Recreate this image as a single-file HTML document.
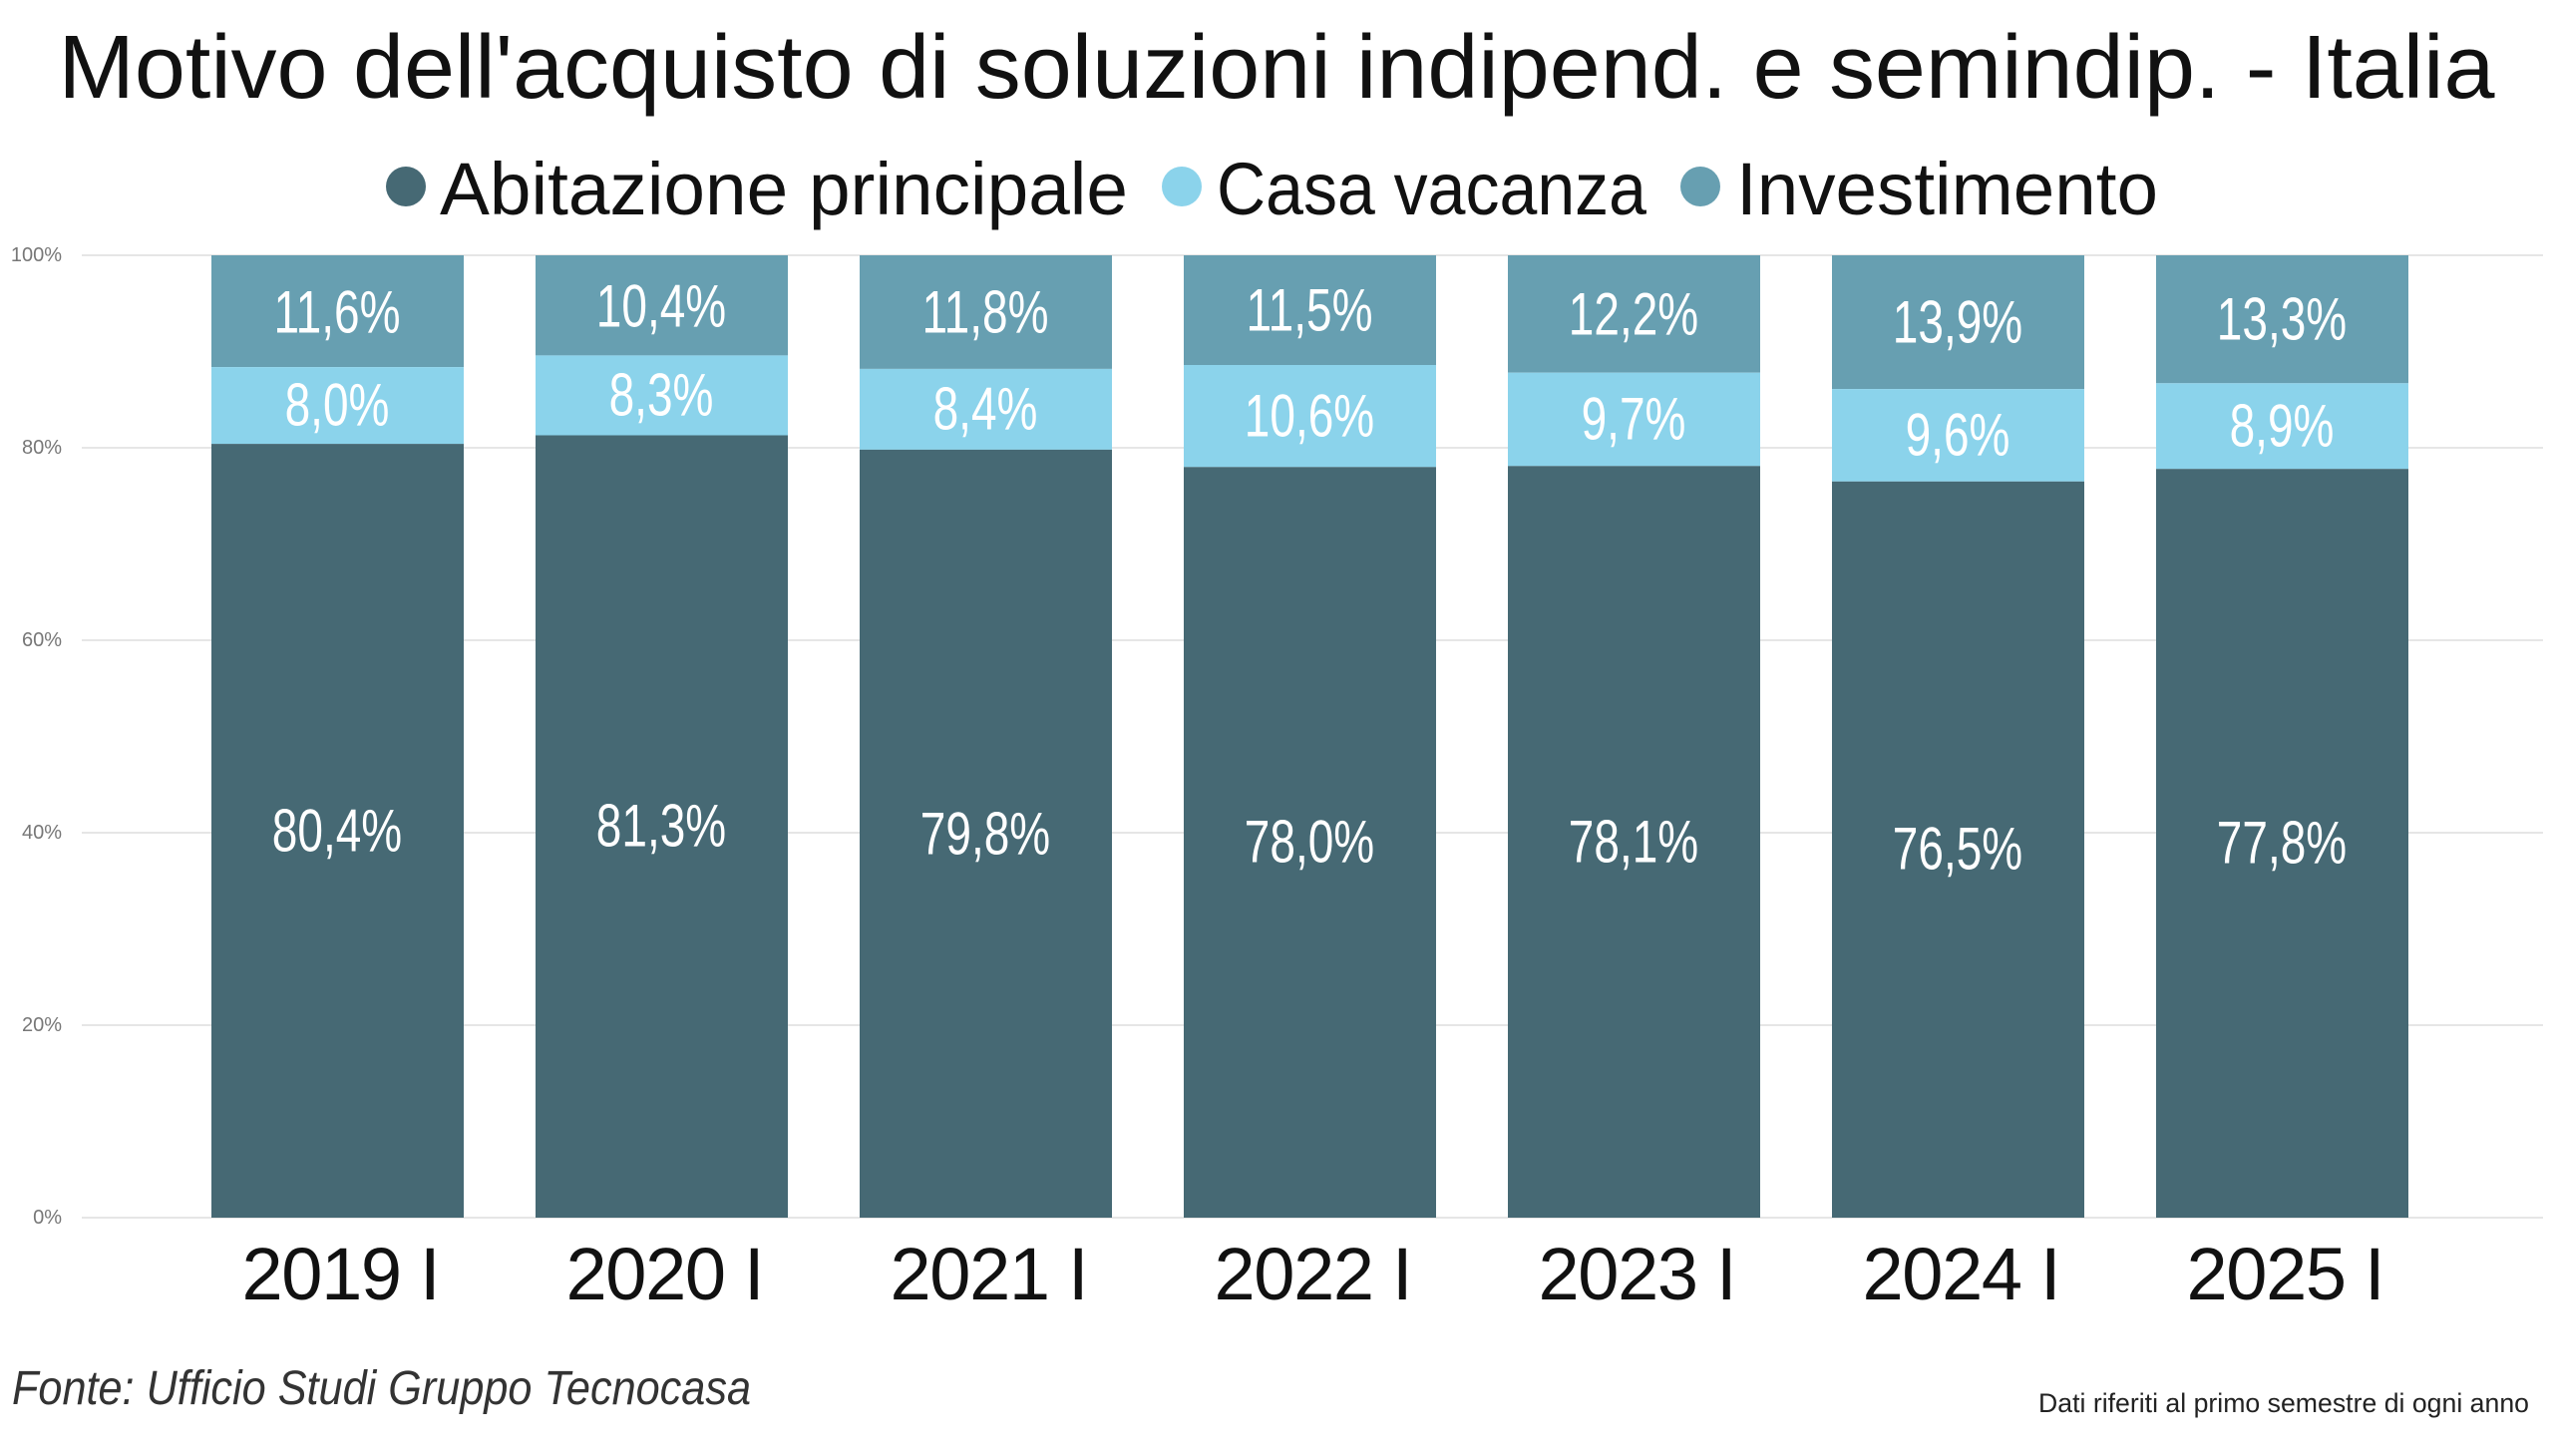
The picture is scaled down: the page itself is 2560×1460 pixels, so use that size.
<!DOCTYPE html>
<html><head><meta charset="utf-8"><style>
html,body{margin:0;padding:0;background:#fff;}
svg{display:block;}
.v text{font-size:50px;fill:#fff;text-anchor:middle;dominant-baseline:central;}
</style></head><body>
<svg width="2560" height="1460" viewBox="0 0 2560 1460" xmlns="http://www.w3.org/2000/svg" font-family="Liberation Sans, sans-serif">
<text x="1280" y="98" font-size="90" text-anchor="middle" fill="#111" textLength="2443" lengthAdjust="spacingAndGlyphs">Motivo dell'acquisto di soluzioni indipend. e semindip. - Italia</text>
<circle cx="407" cy="187" r="20" fill="#466974"/>
<text x="441" y="215" font-size="74" fill="#111" textLength="690" lengthAdjust="spacingAndGlyphs">Abitazione principale</text>
<circle cx="1185" cy="187" r="20" fill="#8BD3EB"/>
<text x="1220" y="215" font-size="74" fill="#111" textLength="431" lengthAdjust="spacingAndGlyphs">Casa vacanza</text>
<circle cx="1705" cy="187" r="20" fill="#679FB1"/>
<text x="1741" y="215" font-size="74" fill="#111" textLength="423" lengthAdjust="spacingAndGlyphs">Investimento</text>
<g stroke="#e6e6e6" stroke-width="2">
<line x1="82" x2="2550" y1="256" y2="256"/><line x1="82" x2="2550" y1="449" y2="449"/><line x1="82" x2="2550" y1="642" y2="642"/><line x1="82" x2="2550" y1="835" y2="835"/><line x1="82" x2="2550" y1="1028" y2="1028"/><line x1="82" x2="2550" y1="1221" y2="1221"/>
</g>
<g font-size="20" fill="#777" text-anchor="end" dominant-baseline="central">
<text x="62" y="256">100%</text><text x="62" y="449">80%</text><text x="62" y="642">60%</text><text x="62" y="835">40%</text><text x="62" y="1028">20%</text><text x="62" y="1221">0%</text>
</g>
<g>
<rect x="212" y="256" width="253" height="112.1" fill="#679FB1"/><rect x="212" y="368.1" width="253" height="77" fill="#8BD3EB"/><rect x="212" y="445.1" width="253" height="775.9" fill="#466974"/>
<rect x="537" y="256" width="253" height="100.4" fill="#679FB1"/><rect x="537" y="356.4" width="253" height="80.1" fill="#8BD3EB"/><rect x="537" y="436.5" width="253" height="784.5" fill="#466974"/>
<rect x="862" y="256" width="253" height="113.9" fill="#679FB1"/><rect x="862" y="369.9" width="253" height="81" fill="#8BD3EB"/><rect x="862" y="450.9" width="253" height="770.1" fill="#466974"/>
<rect x="1187" y="256" width="253" height="110" fill="#679FB1"/><rect x="1187" y="366" width="253" height="102.3" fill="#8BD3EB"/><rect x="1187" y="468.3" width="253" height="752.7" fill="#466974"/>
<rect x="1512" y="256" width="253" height="117.7" fill="#679FB1"/><rect x="1512" y="373.7" width="253" height="93.6" fill="#8BD3EB"/><rect x="1512" y="467.3" width="253" height="753.7" fill="#466974"/>
<rect x="1837" y="256" width="253" height="134.1" fill="#679FB1"/><rect x="1837" y="390.1" width="253" height="92.7" fill="#8BD3EB"/><rect x="1837" y="482.8" width="253" height="738.2" fill="#466974"/>
<rect x="2162" y="256" width="253" height="128.3" fill="#679FB1"/><rect x="2162" y="384.3" width="253" height="85.9" fill="#8BD3EB"/><rect x="2162" y="470.2" width="253" height="750.8" fill="#466974"/>
</g>
<g class="v">
<text transform="translate(338,314) scale(0.92,1.2)">11,6%</text><text transform="translate(338,407) scale(0.92,1.2)">8,0%</text><text transform="translate(338,834) scale(0.92,1.2)">80,4%</text>
<text transform="translate(663,308) scale(0.92,1.2)">10,4%</text><text transform="translate(663,397) scale(0.92,1.2)">8,3%</text><text transform="translate(663,829) scale(0.92,1.2)">81,3%</text>
<text transform="translate(988,314) scale(0.92,1.2)">11,8%</text><text transform="translate(988,411) scale(0.92,1.2)">8,4%</text><text transform="translate(988,837) scale(0.92,1.2)">79,8%</text>
<text transform="translate(1313,312) scale(0.92,1.2)">11,5%</text><text transform="translate(1313,418) scale(0.92,1.2)">10,6%</text><text transform="translate(1313,845) scale(0.92,1.2)">78,0%</text>
<text transform="translate(1638,316) scale(0.92,1.2)">12,2%</text><text transform="translate(1638,421) scale(0.92,1.2)">9,7%</text><text transform="translate(1638,845) scale(0.92,1.2)">78,1%</text>
<text transform="translate(1963,324) scale(0.92,1.2)">13,9%</text><text transform="translate(1963,437) scale(0.92,1.2)">9,6%</text><text transform="translate(1963,852) scale(0.92,1.2)">76,5%</text>
<text transform="translate(2288,321) scale(0.92,1.2)">13,3%</text><text transform="translate(2288,428) scale(0.92,1.2)">8,9%</text><text transform="translate(2288,846) scale(0.92,1.2)">77,8%</text>
</g>
<g font-size="74" fill="#111" text-anchor="middle" lengthAdjust="spacingAndGlyphs">
<text x="342" y="1303" textLength="199">2019 I</text><text x="667" y="1303" textLength="199">2020 I</text><text x="992" y="1303" textLength="199">2021 I</text><text x="1317" y="1303" textLength="199">2022 I</text><text x="1642" y="1303" textLength="199">2023 I</text><text x="1967" y="1303" textLength="199">2024 I</text><text x="2292" y="1303" textLength="199">2025 I</text>
</g>
<text x="12" y="1408" font-size="48" font-style="italic" fill="#333" textLength="741" lengthAdjust="spacingAndGlyphs">Fonte: Ufficio Studi Gruppo Tecnocasa</text>
<text x="2536" y="1416" font-size="27" fill="#222" text-anchor="end" textLength="492" lengthAdjust="spacingAndGlyphs">Dati riferiti al primo semestre di ogni anno</text>
</svg>
</body></html>
